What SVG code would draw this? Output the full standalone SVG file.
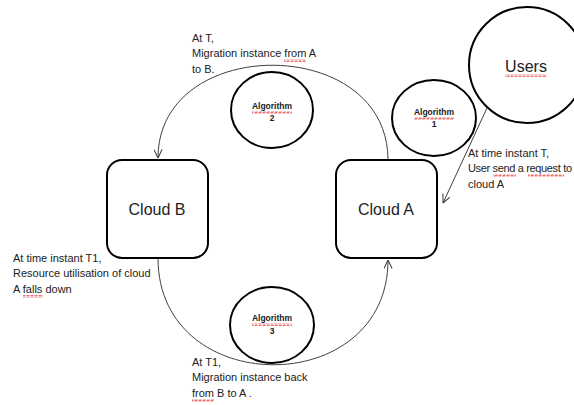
<svg xmlns="http://www.w3.org/2000/svg" width="574" height="405" viewBox="0 0 574 405">
<defs>
<marker id="arr" viewBox="0 0 10 10" refX="9.5" refY="5" markerWidth="9" markerHeight="9" markerUnits="userSpaceOnUse" orient="auto">
<path d="M0,0.5 L9.5,5 L0,9.5" fill="none" stroke="#404040" stroke-width="1.2"/>
</marker>
<pattern id="wave" width="4" height="3" patternUnits="userSpaceOnUse">
<path d="M0,2.5 L1,0.5 L3,2.5 L4,0.5 M-1,0.5 L0,2.5 M4,0.5 L5,2.5" fill="none" stroke="#e03030" stroke-width="0.7"/>
</pattern>
<style>
.box{fill:#fff;stroke:#000;stroke-width:2}
.circ{fill:#fff;stroke:#000;stroke-width:2}
.conn{fill:none;stroke:#404040;stroke-width:1}
.lbl{font-family:"Liberation Sans",Arial,sans-serif;font-size:11px;fill:#222}
.big{font-family:"Liberation Sans",Arial,sans-serif;font-size:16px;fill:#222;text-anchor:middle}
.alg{font-family:"Liberation Sans",Arial,sans-serif;font-size:8.5px;font-weight:bold;fill:#222;text-anchor:middle}
</style>
</defs>
<rect width="574" height="405" fill="#fff"/>
<g id="connectors">
<path class="conn" d="M388,160 C388,34 158,34 158,158" marker-end="url(#arr)"/>
<path class="conn" d="M158,258 C158,400 388,400 388,260" marker-end="url(#arr)"/>
<path class="conn" d="M487,108 L443,203" marker-end="url(#arr)"/>
</g>
<g id="cloudB">
<rect class="box" x="107" y="160" width="101" height="98" rx="15"/>
<text class="big" x="157" y="215">Cloud B</text>
</g>
<g id="cloudA">
<rect class="box" x="336" y="160" width="101" height="98" rx="15"/>
<text class="big" x="386" y="215">Cloud A</text>
</g>
<g id="users">
<circle class="circ" cx="527" cy="65" r="58"/>
<text class="big" x="526" y="72">Users</text>
<rect x="505" y="74" width="42" height="3" fill="url(#wave)"/>
</g>
<g id="algorithm1">
<ellipse class="circ" cx="434" cy="118" rx="42" ry="38"/>
<text class="alg" x="434" y="115">Algorithm</text>
<text class="alg" x="434" y="127">1</text>
<rect x="414" y="117" width="40" height="3" fill="url(#wave)"/>
</g>
<g id="algorithm2">
<ellipse class="circ" cx="272" cy="110" rx="41" ry="38"/>
<text class="alg" x="272" y="109">Algorithm</text>
<text class="alg" x="272" y="121">2</text>
<rect x="252" y="111" width="40" height="3" fill="url(#wave)"/>
</g>
<g id="algorithm3">
<ellipse class="circ" cx="272" cy="325" rx="42" ry="38"/>
<text class="alg" x="272" y="321">Algorithm</text>
<text class="alg" x="272" y="334">3</text>
<rect x="252" y="323" width="40" height="3" fill="url(#wave)"/>
</g>
<g id="label-top">
<text class="lbl" x="192" y="42">At T,</text>
<text class="lbl" x="192" y="57">Migration instance from A</text>
<text class="lbl" x="192" y="73">to B.</text>
<rect x="284" y="59" width="22" height="3" fill="url(#wave)"/>
</g>
<g id="label-right">
<text class="lbl" x="468" y="157">At time instant T,</text>
<text class="lbl" x="468" y="172" textLength="104" lengthAdjust="spacing">User send a request to</text>
<text class="lbl" x="468" y="188">cloud A</text>
<rect x="493" y="174" width="23" height="3" fill="url(#wave)"/>
<rect x="528" y="174" width="36" height="3" fill="url(#wave)"/>
</g>
<g id="label-left">
<text class="lbl" x="13" y="262">At time instant T1,</text>
<text class="lbl" x="13" y="277">Resource utilisation of cloud</text>
<text class="lbl" x="13" y="293">A falls down</text>
<rect x="23" y="295" width="20" height="3" fill="url(#wave)"/>
</g>
<g id="label-bottom">
<text class="lbl" x="192" y="366">At T1,</text>
<text class="lbl" x="192" y="381">Migration instance back</text>
<text class="lbl" x="192" y="397">from B to A .</text>
<rect x="192" y="399" width="22" height="3" fill="url(#wave)"/>
</g>
</svg>
